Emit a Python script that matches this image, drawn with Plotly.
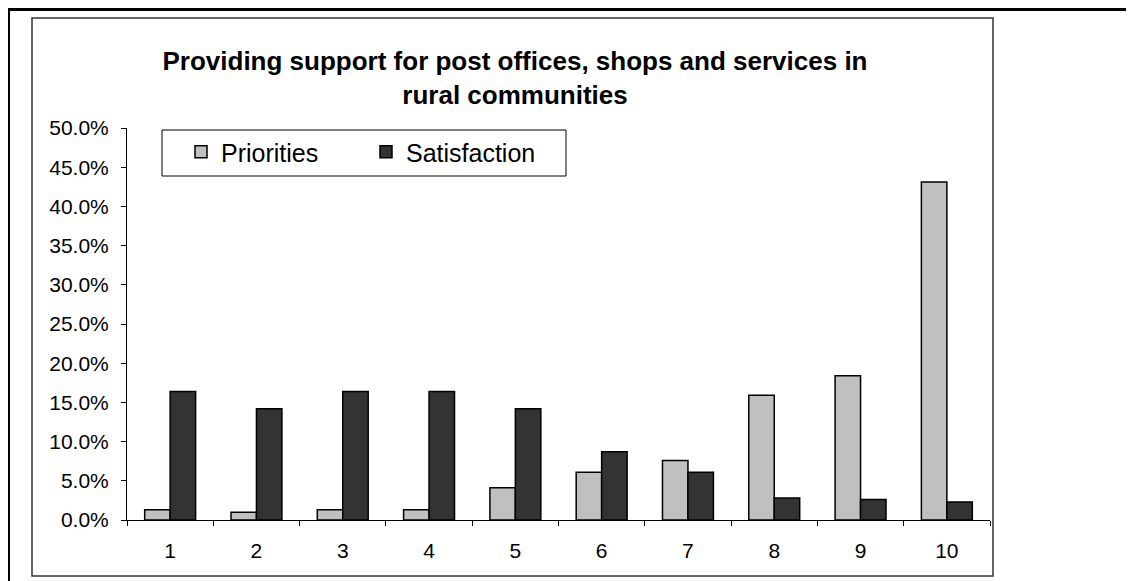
import plotly.graph_objects as go

categories = ["1", "2", "3", "4", "5", "6", "7", "8", "9", "10"]
priorities = [0.013, 0.010, 0.013, 0.013, 0.041, 0.061, 0.076, 0.159, 0.184, 0.431]
satisfaction = [0.164, 0.142, 0.164, 0.164, 0.142, 0.087, 0.061, 0.028, 0.026, 0.023]
series_names = ["Priorities", "Satisfaction"]
title_text = "Providing support for post offices, shops and services in<br>rural communities"

# The page body adds an 8px margin, so the figure is drawn 8px smaller and every
# screen position is shifted by 8px.
OFF = 8
W, H = 1134 - OFF, 581 - OFF
PL, PR, PT, PB = 127, 990, 128, 520  # plot area in screen pixels
FONT = "Liberation Sans, Arial, sans-serif"

fig = go.Figure()
fig.add_trace(go.Bar(x=categories, y=priorities, name=series_names[0],
                     marker=dict(color="#C0C0C0", line=dict(color="black", width=1.5))))
fig.add_trace(go.Bar(x=categories, y=satisfaction, name=series_names[1],
                     marker=dict(color="#333333", line=dict(color="black", width=1.5))))


def px(x):
    return (x - PL) / (PR - PL)


def py(y):
    return (PB - y) / (PB - PT)


shapes = [
    # outer frame lines (top and left)
    dict(type="line", xref="paper", yref="paper", x0=px(8), x1=px(1140), y0=py(9.5), y1=py(9.5),
         line=dict(color="black", width=3)),
    dict(type="line", xref="paper", yref="paper", x0=px(9), x1=px(9), y0=py(8), y1=py(590),
         line=dict(color="black", width=2)),
    # inner chart box
    dict(type="rect", xref="paper", yref="paper", x0=px(32), x1=px(993), y0=py(18), y1=py(576),
         line=dict(color="#333333", width=1.5), layer="below"),
    # legend box
    dict(type="rect", xref="paper", yref="paper", x0=px(162), x1=px(566), y0=py(130), y1=py(176),
         line=dict(color="black", width=1), fillcolor="white", layer="below"),
]

fig.update_layout(
    width=W, height=H,
    paper_bgcolor="white", plot_bgcolor="white",
    margin=dict(l=PL - OFF, r=W - (PR - OFF), t=PT - OFF, b=H - (PB - OFF), pad=0),
    barmode="group", bargap=0.41, bargroupgap=0,
    font=dict(family=FONT, color="black", size=21),
    title=dict(text=title_text, x=(515 - OFF) / W, xanchor="center", xref="container",
               y=1 - (70 - OFF) / H, yref="container", yanchor="top",
               font=dict(family=FONT, size=26, color="black", weight="bold")),
    legend=dict(orientation="h", x=px(181), xanchor="left", y=py(129), yanchor="top",
                bgcolor="rgba(0,0,0,0)", borderwidth=0,
                font=dict(family=FONT, size=25, color="black"),
                entrywidth=140, traceorder="normal"),
    shapes=shapes,
    xaxis=dict(showline=True, linecolor="black", linewidth=1, ticks="outside",
               tickson="boundaries", ticklen=5, tickcolor="black", showgrid=False,
               tickfont=dict(size=21), zeroline=False, ticklabelstandoff=12),
    yaxis=dict(range=[0, 0.5], dtick=0.05, tick0=0, tickformat=".1%", showline=True,
               linecolor="black", linewidth=1, ticks="outside", ticklen=5, tickcolor="black",
               showgrid=False, zeroline=False, tickfont=dict(size=21), ticklabelstandoff=8),
)

fig.write_html("out.html")
